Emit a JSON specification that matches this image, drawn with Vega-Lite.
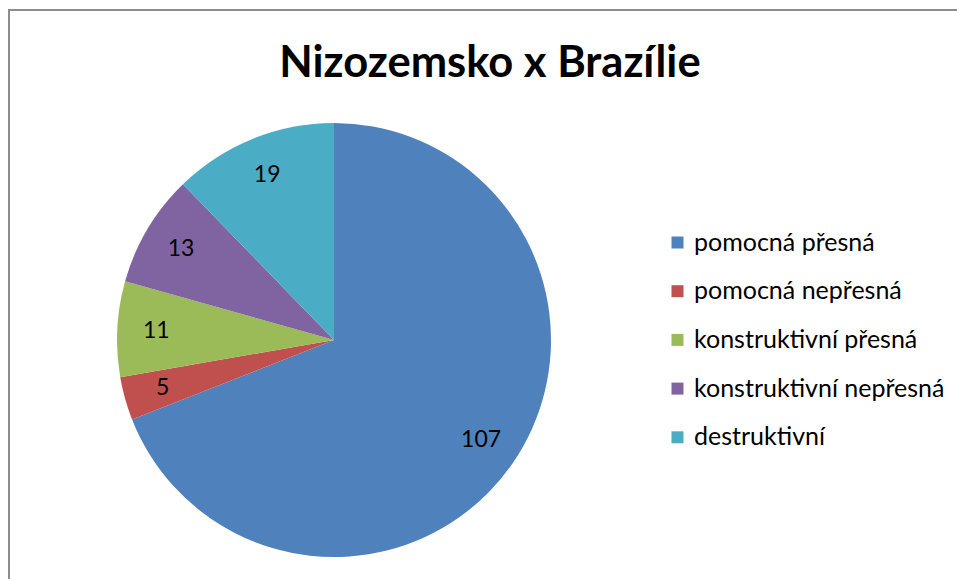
{
  "$schema": "https://vega.github.io/schema/vega-lite/v6.json",
  "autosize": {"type": "none"},
  "width": 434,
  "height": 434,
  "padding": {"left": 117, "top": 123, "right": 406, "bottom": 22},
  "background": "white",
  "config": {"view": {"stroke": null}},
  "title": {
    "text": "Nizozemsko x Brazílie",
    "font": "Lato",
    "fontSize": 43.5,
    "fontWeight": "bold",
    "color": "black",
    "anchor": "middle",
    "frame": "group",
    "dx": 156,
    "baseline": "alphabetic",
    "offset": -111
  },
  "data": {
    "values": [
      {"kategorie": "pomocná přesná", "pocet": 107, "poradi": 1},
      {"kategorie": "pomocná nepřesná", "pocet": 5, "poradi": 2},
      {"kategorie": "konstruktivní přesná", "pocet": 11, "poradi": 3},
      {"kategorie": "konstruktivní nepřesná", "pocet": 13, "poradi": 4},
      {"kategorie": "destruktivní", "pocet": 19, "poradi": 5}
    ]
  },
  "layer": [
    {
      "mark": {"type": "arc", "outerRadius": 217},
      "encoding": {
        "theta": {"field": "pocet", "type": "quantitative", "stack": true},
        "order": {"field": "poradi", "type": "quantitative"},
        "color": {
          "field": "kategorie",
          "type": "nominal",
          "scale": {
            "domain": ["pomocná přesná", "pomocná nepřesná", "konstruktivní přesná", "konstruktivní nepřesná", "destruktivní"],
            "range": ["#4F81BD", "#C0504D", "#9BBB59", "#8064A2", "#4BACC6"]
          },
          "legend": {
            "orient": "none",
            "legendX": 548,
            "legendY": 107,
            "title": null,
            "symbolType": "square",
            "symbolSize": 144,
            "symbolStrokeWidth": 0,
            "labelFont": "Lato",
            "labelFontSize": 25,
            "labelColor": "black",
            "labelOffset": 4,
            "rowPadding": 22.7,
            "labelLimit": 400
          }
        }
      }
    },
    {
      "mark": {"type": "text", "radius": 178, "font": "Lato", "fontSize": 23, "color": "black"},
      "encoding": {
        "theta": {"field": "pocet", "type": "quantitative", "stack": true},
        "order": {"field": "poradi", "type": "quantitative"},
        "text": {"field": "pocet", "type": "quantitative"}
      }
    },
    {
      "data": {"values": [{}]},
      "mark": {"type": "rect", "fill": null, "stroke": "#8c8c8c", "strokeWidth": 2},
      "encoding": {
        "x": {"value": -108},
        "y": {"value": -113},
        "x2": {"value": 900},
        "y2": {"value": 500}
      }
    }
  ]
}
